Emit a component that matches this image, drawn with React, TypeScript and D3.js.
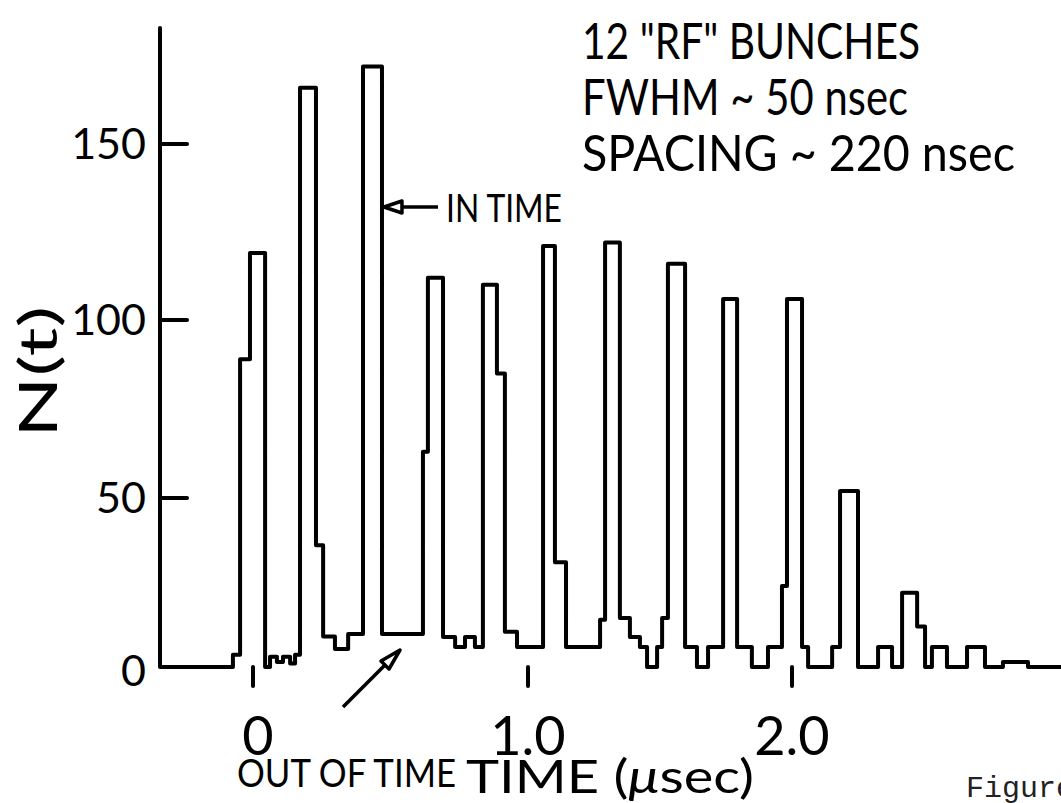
import React from 'react';
import * as d3 from 'd3';

// histogram: bin edges in usec, counts N(t) per bin
const binEdges = [
  -0.073, -0.047, -0.011, 0.044, 0.062, 0.087, 0.109, 0.135, 0.153, 0.171,
  0.229, 0.255, 0.298, 0.346, 0.4, 0.469, 0.618, 0.636, 0.691, 0.735,
  0.771, 0.807, 0.836, 0.887, 0.916, 0.96, 1.057, 1.102, 1.144, 1.273,
  1.292, 1.348, 1.386, 1.424, 1.451, 1.489, 1.508, 1.53, 1.595, 1.64,
  1.682, 1.739, 1.792, 1.848, 1.909, 1.962, 1.981, 2.038, 2.061, 2.152,
  2.182, 2.25, 2.326, 2.379, 2.417, 2.474, 2.504, 2.53, 2.587, 2.663,
  2.731, 2.799, 2.894,
];
const counts = [
  3.6, 89, 119, 0, 3, 1.5, 3, 1, 3.6, 166,
  36, 9, 5.3, 9.8, 172, 9.8, 63, 112, 8.9, 5.9,
  8.9, 5.9, 110, 85, 10.4, 5.9, 121, 31, 5.9, 14,
  122, 14.5, 8.9, 5.9, 0, 5.9, 14.5, 116, 5.9, 0,
  5.9, 106, 5.9, 0, 5.9, 24, 106, 5.9, 0, 5.9,
  52, 0, 5.9, 0, 22, 12, 0, 5.9, 0, 5.9,
  0, 1.5,
];

const xTicks = [0, 1, 2];
const xTickLabels = ['0', '1.0', '2.0'];
const yTicks = [0, 50, 100, 150];
const yTickLabels = ['0', '50', '100', '150'];
const infoLines = ['12 "RF" BUNCHES', 'FWHM ~ 50 nsec', 'SPACING ~ 220 nsec'];

const App = () => {
  const width = 1061;
  const height = 803;
  const font = 'Lato, "Open Sans", sans-serif';

  // hand drawn axes are slightly uneven, so piecewise scales
  const xScale = d3.scaleLinear().domain([0, 1, 2]).range([253, 528, 792]);
  const yScale = d3.scaleLinear().domain([0, 50, 100, 150]).range([667, 498, 320, 144]);

  const tStart = xScale.invert(160);
  const tEnd = xScale.invert(width + 5);
  const yTop = yScale.invert(28);

  const points: [number, number][] = [[tStart, 0]];
  counts.forEach((c, i) => points.push([binEdges[i], c]));
  points.push([binEdges[binEdges.length - 1], 0]);
  points.push([tEnd, 0]);

  const histLine = d3
    .line<[number, number]>()
    .x(d => xScale(d[0]))
    .y(d => yScale(d[1]))
    .curve(d3.curveStepAfter);

  const x0 = xScale(tStart);
  const y0 = yScale(0);

  // arrow "IN TIME" points at the right wall of the tallest bunch
  const inTimeX = xScale(binEdges[15]);
  const inTimeY = 207;

  return (
    <svg
      width={width}
      height={height}
      viewBox={`0 0 ${width} ${height}`}
      style={{ position: 'absolute', left: 0, top: 0, background: '#fff' }}
    >
      <rect width={width} height={height} fill='#fff' />
      <g stroke='#000' strokeWidth='4' fill='none' strokeLinecap='round'>
        <line x1={x0} x2={x0} y1={yScale(yTop)} y2={y0} />
        {yTicks.filter(d => d > 0).map(d => (
          <line key={`yt-${d}`} x1={x0} x2={x0 + 27} y1={yScale(d)} y2={yScale(d)} />
        ))}
        {xTicks.map(d => (
          <line key={`xt-${d}`} x1={xScale(d)} x2={xScale(d)} y1={y0} y2={y0 + 19} />
        ))}
      </g>
      <path
        d={histLine(points) || ''}
        fill='none'
        stroke='#000'
        strokeWidth='4'
        strokeLinejoin='round'
      />

      <g fontFamily={font} fill='#000'>
        {yTicks.map((d, i) => (
          <text
            key={`yl-${d}`}
            x={146}
            y={yScale(d) + (d === 0 ? 19 : 15)}
            fontSize='43'
            textAnchor='end'
          >
            {yTickLabels[i]}
          </text>
        ))}
        {xTicks.map((d, i) => (
          <text key={`xl-${d}`} x={xScale(d) + (d === 0 ? 5 : 0)} y={755} fontSize='54' textAnchor='middle'>
            {xTickLabels[i]}
          </text>
        ))}
        <text
          transform='translate(57, 372) rotate(-90)'
          fontSize='52'
          textAnchor='middle'
          textLength={132}
          lengthAdjust='spacingAndGlyphs'
        >
          N(t)
        </text>
        <text x={466} y={793} fontSize='46' textLength={288} lengthAdjust='spacingAndGlyphs'>
          TIME (<tspan fontStyle='italic'>μ</tspan>sec)
        </text>
        <text x={237} y={787} fontSize='38' textLength={219} lengthAdjust='spacingAndGlyphs'>
          OUT OF TIME
        </text>
        <text x={446} y={222} fontSize='38' textLength={116} lengthAdjust='spacingAndGlyphs'>
          IN TIME
        </text>
        {infoLines.map((t, i) => (
          <text
            key={`info-${i}`}
            x={582}
            y={59 + i * 56}
            fontSize='50'
            textLength={[338, 326, 433][i]}
            lengthAdjust='spacingAndGlyphs'
          >
            {t}
          </text>
        ))}
        <text x={966} y={797} fontSize='30' fontFamily='"Liberation Mono", monospace' fill='#222'>
          Figure
        </text>
      </g>

      <g stroke='#000' strokeWidth='3.5' strokeLinejoin='round'>
        <line x1={inTimeX + 20} x2={438} y1={inTimeY} y2={inTimeY} />
        <polygon
          points={`${inTimeX + 2},${inTimeY} ${inTimeX + 20},${inTimeY - 6} ${inTimeX + 20},${inTimeY + 6}`}
          fill='#fff'
        />
        <line x1={343} y1={707} x2={385} y2={665} />
        <polygon points='400,650 381,661 389,669' fill='#fff' />
      </g>
    </svg>
  );
};

export default App;
